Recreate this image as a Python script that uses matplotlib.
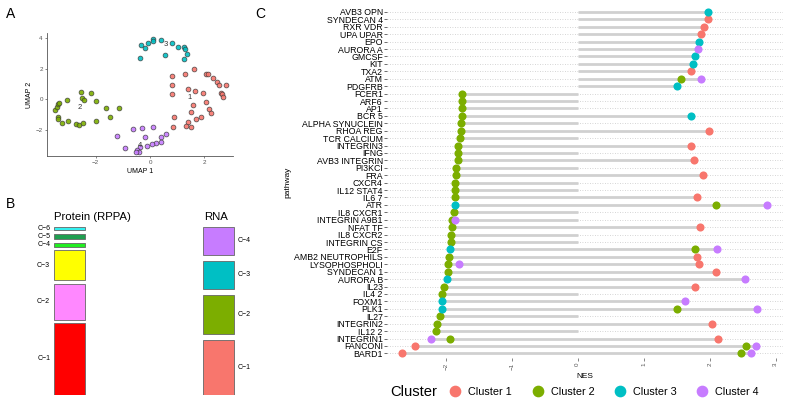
import matplotlib.pyplot as plt
import numpy as np
from matplotlib.lines import Line2D

plt.rcParams['font.family'] = ['Liberation Sans', 'DejaVu Sans']

# ggplot hue colours for the 4 RNA clusters
hue = ['#F8766D', '#7CAE00', '#00BFC4', '#C77CFF']
cluster_names = ['Cluster 1', 'Cluster 2', 'Cluster 3', 'Cluster 4']

# --- panel A: UMAP coordinates per cluster ---
umap1_x = [0.80, 1.27, 1.63, 2.07, 2.13, 2.33, 2.45, 2.54, 2.78, 2.62, 2.65, 2.69, 0.81, 0.82, 1.41,
           1.64, 1.96, 2.07, 2.16, 2.24, 1.58, 1.52, 1.86, 1.69, 1.41, 1.31, 1.51, 0.88, 0.86]
umap1_y = [1.53, 1.66, 1.97, 1.64, 1.66, 1.40, 1.10, 0.95, 0.91, 0.43, 0.34, 0.15, 0.91, 0.36, 0.65,
           0.52, 0.41, -0.18, -0.63, -0.91, -0.37, -0.82, -1.13, -1.30, -1.47, -1.73, -1.78, -1.17, -1.80]
umap2_x = [-3.50, -3.41, -3.37, -3.36, -3.39, -3.37, -3.25, -3.00, -2.74, -2.60, -2.47, -3.06, -2.53,
           -2.50, -2.42, -1.97, -2.18, -1.62, -1.48, -1.13, -2.00]
umap2_y = [-0.71, -0.48, -0.32, -0.26, -1.13, -1.26, -1.56, -1.39, -1.62, -1.67, -1.52, -0.03, 0.49,
           0.10, -0.05, -0.13, 0.43, -0.58, -1.17, -0.55, -1.39]
umap3_x = [-0.37, -0.33, -0.19, -0.09, 0.11, 0.12, 0.39, 0.54, 0.82, 1.02, 1.24, 1.29, 1.35, 1.24]
umap3_y = [2.70, 3.53, 3.35, 3.68, 3.90, 3.79, 3.85, 2.88, 3.68, 3.40, 3.38, 3.27, 2.94, 2.62]
umap4_x = [-1.22, -0.93, -0.64, -0.28, 0.11, -0.17, 0.58, 0.40, 0.42, 0.23, 0.07, -0.10, -0.37,
           -0.49, -0.42, -0.53]
umap4_y = [-2.38, -3.14, -1.95, -1.86, -1.78, -2.47, -2.25, -2.43, -2.79, -2.82, -2.90, -3.03, -3.08,
           -3.29, -3.40, -3.40]
umap_label_pos = [(1.47, 0.10), (-2.57, -0.52), (0.58, 3.57), (-0.37, -3.03)]

# --- panel B: cluster sizes ---
protein_labels = ['C\u22121', 'C\u22122', 'C\u22123', 'C\u22124', 'C\u22125', 'C\u22126']
protein_counts = [38, 19, 16, 2, 3, 2]
protein_colors = ['#ff0000', '#ff88ff', '#ffff00', '#22ee22', '#1f9e50', '#33f0f0']
rna_labels = ['C\u22121', 'C\u22122', 'C\u22123', 'C\u22124']
rna_counts = [29, 21, 15, 15]

# --- panel C: NES per pathway and cluster ---
pathways = ['AVB3 OPN', 'SYNDECAN 4', 'RXR VDR', 'UPA UPAR', 'EPO', 'AURORA A', 'GMCSF', 'KIT',
            'TXA2', 'ATM', 'PDGFRB', 'FCER1', 'ARF6', 'AP1', 'BCR 5', 'ALPHA SYNUCLEIN',
            'RHOA REG', 'TCR CALCIUM', 'INTEGRIN3', 'IFNG', 'AVB3 INTEGRIN', 'PI3KCI', 'FRA',
            'CXCR4', 'IL12 STAT4', 'IL6 7', 'ATR', 'IL8 CXCR1', 'INTEGRIN A9B1', 'NFAT TF',
            'IL8 CXCR2', 'INTEGRIN CS', 'E2F', 'AMB2 NEUTROPHILS', 'LYSOPHOSPHOLI', 'SYNDECAN 1',
            'AURORA B', 'IL23', 'IL4 2', 'FOXM1', 'PLK1', 'IL27', 'INTEGRIN2', 'IL12 2',
            'INTEGRIN1', 'FANCONI', 'BARD1']

c1_path = ['SYNDECAN 4', 'RXR VDR', 'UPA UPAR', 'TXA2', 'RHOA REG', 'INTEGRIN3', 'AVB3 INTEGRIN',
           'FRA', 'IL6 7', 'NFAT TF', 'AMB2 NEUTROPHILS', 'LYSOPHOSPHOLI', 'SYNDECAN 1', 'IL23',
           'INTEGRIN2', 'INTEGRIN1', 'FANCONI', 'BARD1']
c1_nes = [1.97, 1.91, 1.86, 1.71, 1.99, 1.72, 1.76, 1.90, 1.81, 1.85, 1.80, 1.83, 2.10, 1.78,
          2.03, 2.13, -2.47, -2.66]
c2_path = ['ATM', 'FCER1', 'ARF6', 'AP1', 'BCR 5', 'ALPHA SYNUCLEIN', 'RHOA REG', 'TCR CALCIUM',
           'INTEGRIN3', 'IFNG', 'AVB3 INTEGRIN', 'PI3KCI', 'FRA', 'CXCR4', 'IL12 STAT4', 'IL6 7',
           'ATR', 'IL8 CXCR1', 'INTEGRIN A9B1', 'NFAT TF', 'IL8 CXCR2', 'INTEGRIN CS', 'E2F',
           'AMB2 NEUTROPHILS', 'LYSOPHOSPHOLI', 'SYNDECAN 1', 'IL23', 'IL4 2', 'PLK1', 'IL27',
           'INTEGRIN2', 'IL12 2', 'INTEGRIN1', 'FANCONI', 'BARD1']
c2_nes = [1.56, -1.75, -1.75, -1.76, -1.76, -1.77, -1.77, -1.78, -1.81, -1.82, -1.82, -1.84,
          -1.85, -1.86, -1.86, -1.86, 2.09, -1.88, -1.90, -1.91, -1.92, -1.92, 1.77, -1.95,
          -1.96, -1.97, -2.03, -2.05, 1.50, -2.08, -2.14, -2.15, -1.93, 2.55, 2.47]
c3_path = ['AVB3 OPN', 'EPO', 'GMCSF', 'KIT', 'PDGFRB', 'BCR 5', 'ATR', 'E2F', 'AURORA B',
           'FOXM1', 'PLK1']
c3_nes = [1.97, 1.83, 1.77, 1.75, 1.50, 1.72, -1.86, -1.94, -1.98, -2.05, -2.06]
c4_path = ['AURORA A', 'ATM', 'ATR', 'INTEGRIN A9B1', 'E2F', 'LYSOPHOSPHOLI', 'AURORA B',
           'FOXM1', 'PLK1', 'INTEGRIN1', 'FANCONI', 'BARD1']
c4_nes = [1.82, 1.86, 2.86, -1.86, 2.11, -1.80, 2.54, 1.62, 2.71, -2.23, 2.70, 2.63]

fig = plt.figure(figsize=(7.9, 4.04), dpi=100)

# ---------------- A ----------------
ax_a = fig.add_axes([0.0595, 0.6139, 0.2354, 0.3045])
umap = [(umap1_x, umap1_y), (umap2_x, umap2_y), (umap3_x, umap3_y), (umap4_x, umap4_y)]
for i, (ux, uy) in enumerate(umap):
    ax_a.scatter(ux, uy, s=12, color=hue[i], edgecolor='#3a3a3a', linewidth=0.5, alpha=0.9, zorder=3)
    ax_a.text(*umap_label_pos[i], str(i + 1), fontsize=5.5, color='#333333', ha='center', va='center', zorder=4)
ax_a.set_xlim(-3.79, 3.05)
ax_a.set_ylim(-3.68, 4.31)
ax_a.set_xticks([-2, 0, 2])
ax_a.set_yticks([-2, 0, 2, 4])
for s in ['top', 'right']:
    ax_a.spines[s].set_visible(False)
for s in ['left', 'bottom']:
    ax_a.spines[s].set_color('#555555')
    ax_a.spines[s].set_linewidth(0.6)
ax_a.tick_params(labelsize=4.5, labelcolor='#555555', length=1.5, width=0.5, color='#555555', pad=1.5)
ax_a.set_xlabel('UMAP 1', fontsize=5, labelpad=2)
ax_a.set_ylabel('UMAP 2', fontsize=5, labelpad=2)

# ---------------- B ----------------
ax_b = fig.add_axes([30 / 790, (404 - 395) / 404, 230 / 790, 168.3 / 404])
total_gap = 8.7
bar_w = 0.206
for xpos, counts, colors, labels, side in [
        (0, protein_counts, protein_colors, protein_labels, 'left'),
        (1, rna_counts, hue, rna_labels, 'right')]:
    gap = total_gap / (len(counts) - 1)
    bottoms = np.concatenate([[0], np.cumsum(counts)[:-1]]) + gap * np.arange(len(counts))
    ax_b.bar([xpos] * len(counts), counts, bottom=bottoms, width=bar_w, color=colors,
             edgecolor='#666666', linewidth=0.6)
    for b, c, lab in zip(bottoms, counts, labels):
        if side == 'left':
            ax_b.text(xpos - bar_w / 2 - 0.027, b + c / 2, lab, ha='right', va='center', fontsize=5)
        else:
            ax_b.text(xpos + bar_w / 2 + 0.027, b + c / 2, lab, ha='left', va='center', fontsize=5)
ax_b.set_xlim(-0.265, 1.277)
ax_b.set_ylim(0, 80 + total_gap)
ax_b.axis('off')
fig.text(54 / 790, 1 - 216.7 / 404, 'Protein (RPPA)', fontsize=8.2, ha='left', va='center')
fig.text(204 / 790, 1 - 216.7 / 404, 'RNA', fontsize=8.2, ha='left', va='center')

# ---------------- C ----------------
ax_c = fig.add_axes([387 / 790, 1 - 357.8 / 404, 396 / 790, 350.3 / 404])
ypos = {p: i for i, p in enumerate(pathways)}
cl_path = [c1_path, c2_path, c3_path, c4_path]
cl_nes = [c1_nes, c2_nes, c3_nes, c4_nes]

lo = np.zeros(len(pathways))
hi = np.zeros(len(pathways))
for paths, vals in zip(cl_path, cl_nes):
    for p, v in zip(paths, vals):
        lo[ypos[p]] = min(lo[ypos[p]], v)
        hi[ypos[p]] = max(hi[ypos[p]], v)
ax_c.hlines(np.arange(len(pathways)), lo, hi, color='#d0d0d0', linewidth=2.0, zorder=2)
for i, (paths, vals) in enumerate(zip(cl_path, cl_nes)):
    ax_c.scatter(vals, [ypos[p] for p in paths], s=34, color=hue[i], linewidth=0, zorder=3 + i)

ax_c.set_yticks(np.arange(len(pathways)))
ax_c.set_yticklabels(pathways, fontsize=6.3)
ax_c.set_ylim(len(pathways) - 0.4, -0.6)
ax_c.set_xlim(-2.89, 3.11)
ax_c.set_xticks([-2, -1, 0, 1, 2, 3])
ax_c.tick_params(axis='x', labelrotation=90, labelsize=4.5, labelcolor='#555555', length=2,
                 width=0.5, color='#555555', pad=1.5)
ax_c.tick_params(axis='y', length=2, width=0.6, color='#555555', pad=1)
ax_c.grid(axis='y', linestyle=(0, (1, 2)), color='#c8c8c8', linewidth=0.6, zorder=0)
ax_c.set_axisbelow(True)
for s in ax_c.spines.values():
    s.set_visible(False)
ax_c.set_xlabel('NES', fontsize=6, labelpad=2)
ax_c.set_ylabel('pathway', fontsize=6, labelpad=2)

handles = [Line2D([], [], marker='o', linestyle='', markersize=7.4, color=h) for h in hue]
fig.text(390 / 790, 1 - 392 / 404, 'Cluster', fontsize=10.6, ha='left', va='center')
fig.legend(handles, cluster_names, loc='center left', bbox_to_anchor=(450 / 790, 1 - 392 / 404),
           ncol=4, frameon=False, fontsize=7.8, handlelength=1.0, handletextpad=0.7,
           columnspacing=1.85, borderpad=0, borderaxespad=0)

# panel letters
fig.text(6 / 790, 1 - 18 / 404, 'A', fontsize=10)
fig.text(6 / 790, 1 - 208 / 404, 'B', fontsize=10)
fig.text(255 / 790, 1 - 18 / 404, 'C', fontsize=10)

fig.savefig('out.png', dpi=100)
